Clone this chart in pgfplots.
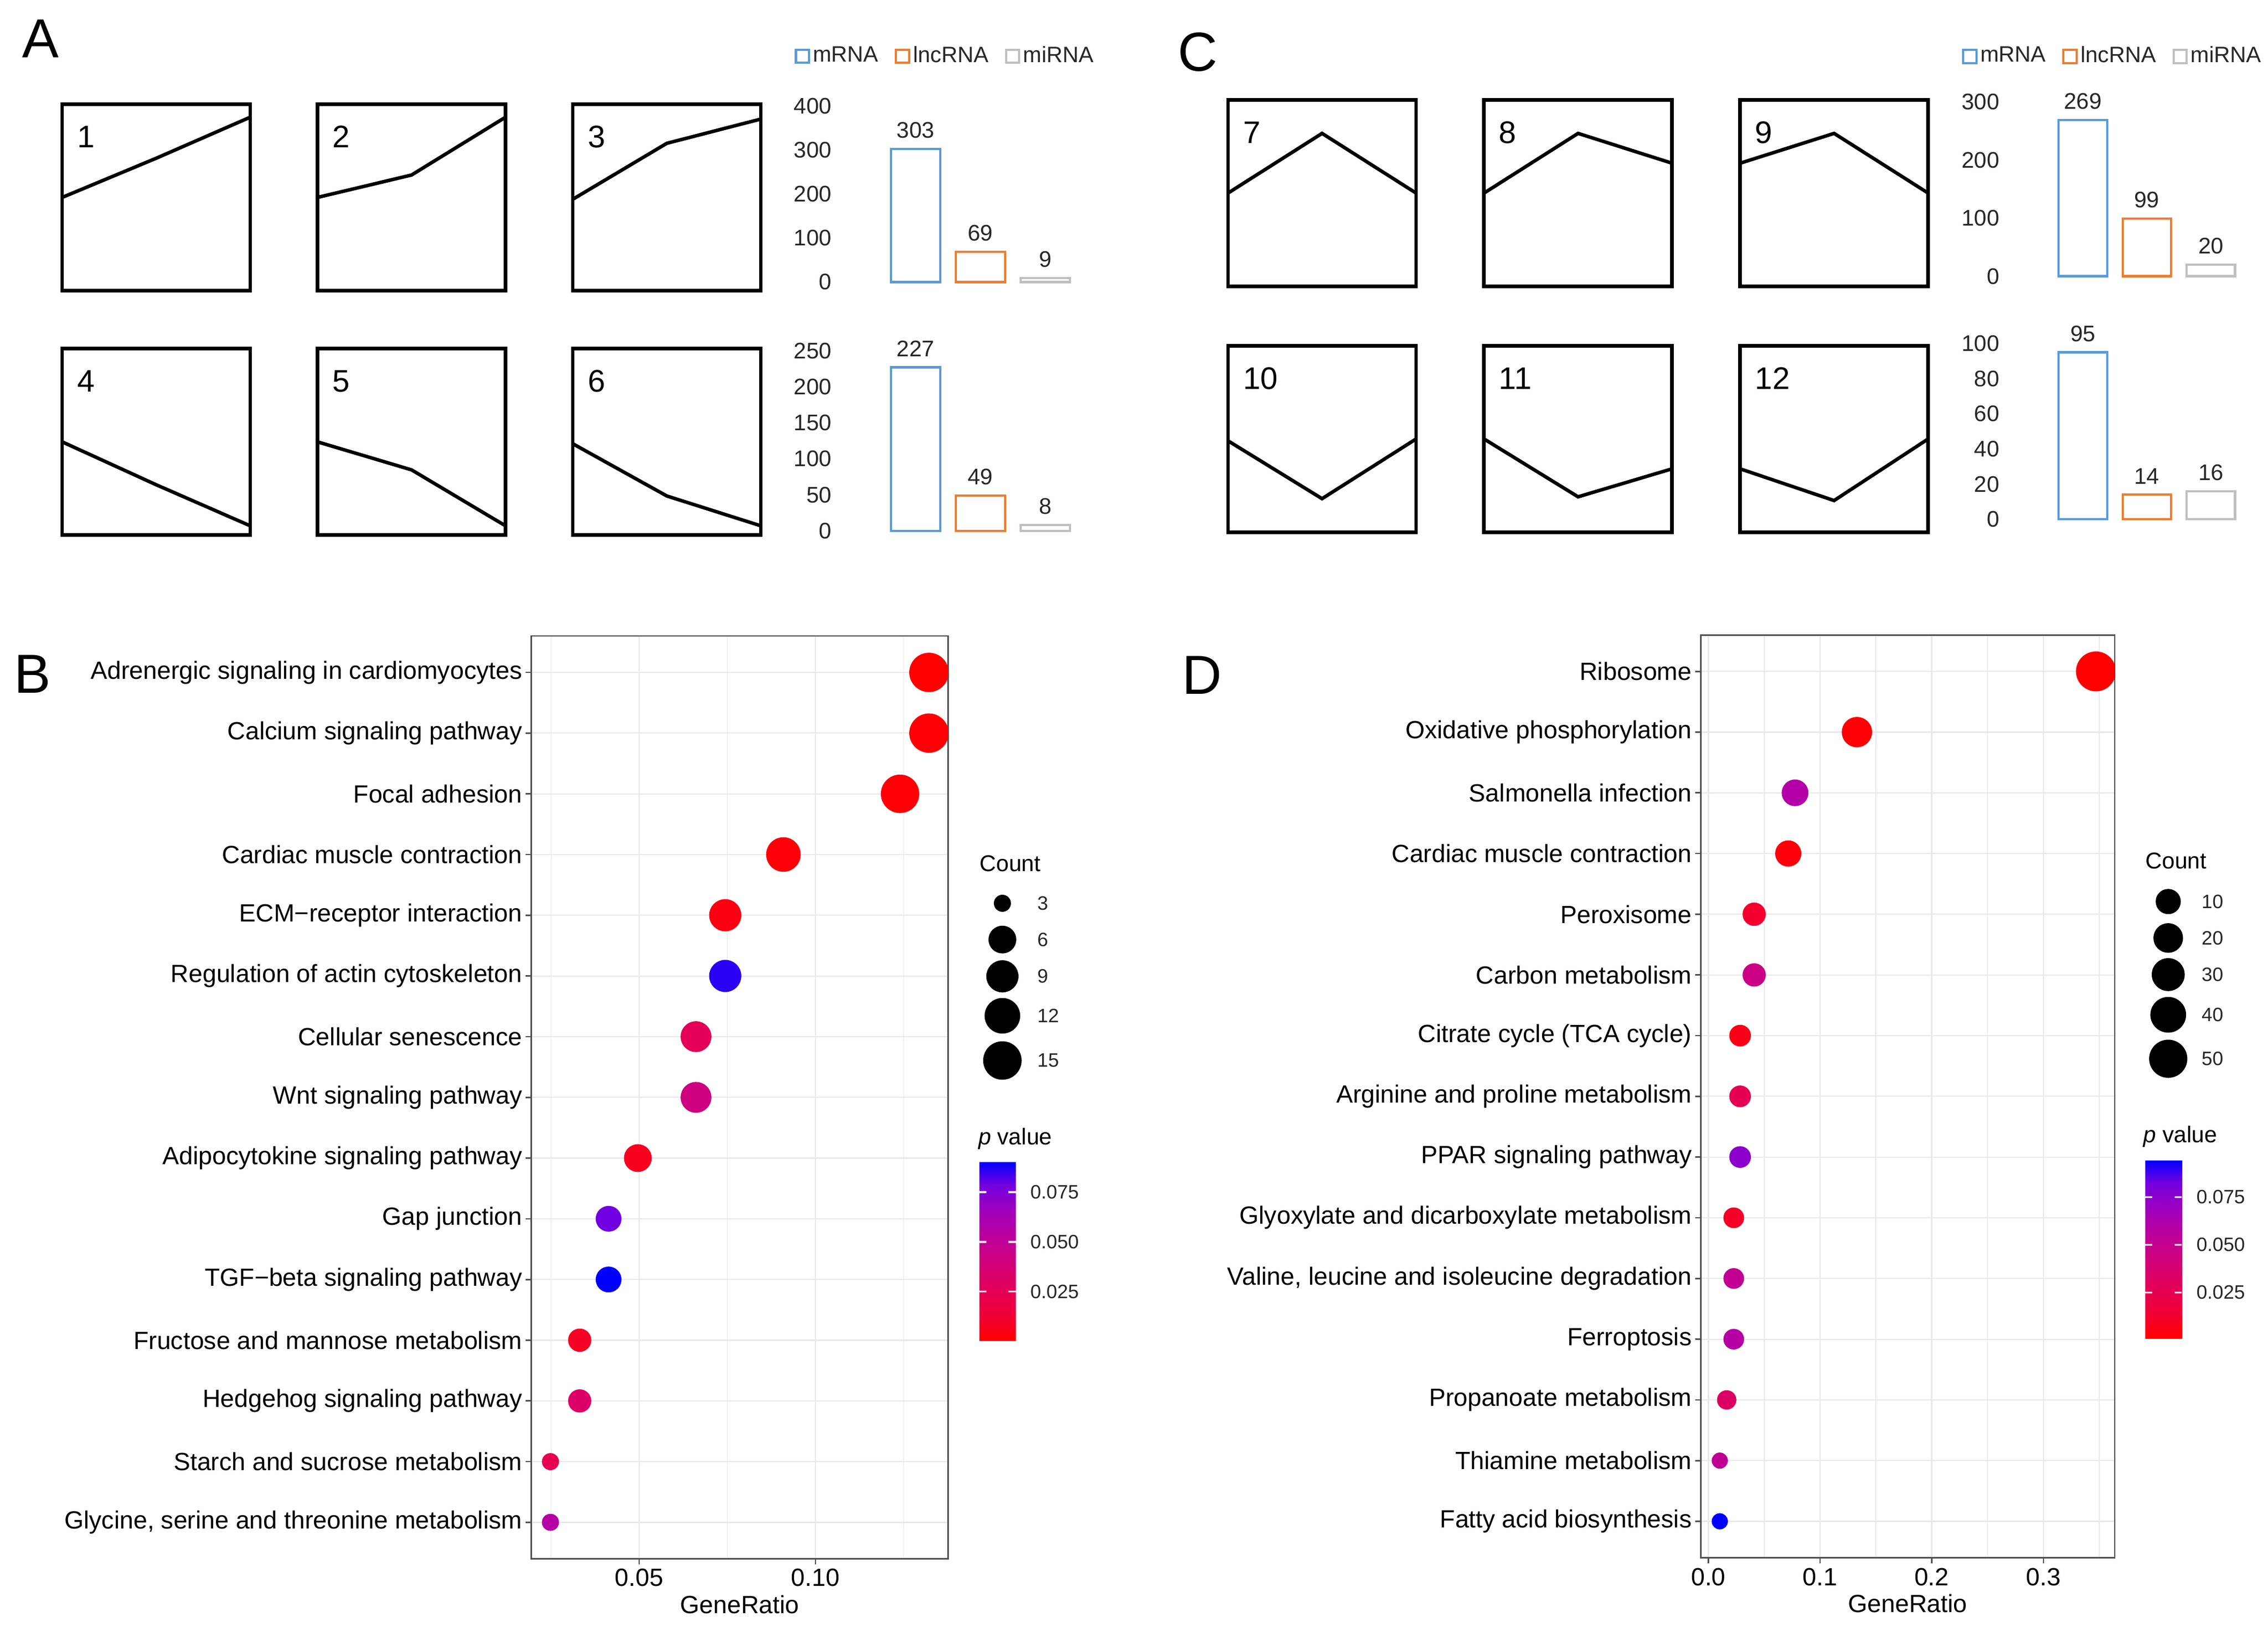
\documentclass[border=0pt]{standalone}
\usepackage{pgfplots}
\pgfplotsset{compat=1.18}
\usepackage{pgfplotstable}
\usepackage{fontspec}
\setmainfont{Liberation Sans}

\definecolor{mrna}{RGB}{91,155,213}
\definecolor{lnc}{RGB}{237,125,49}
\definecolor{mir}{RGB}{191,191,191}
\definecolor{frm}{RGB}{80,80,80}
\definecolor{grd}{RGB}{232,232,232}

\newcommand\fDot{\fontsize{8.6pt}{10pt}\selectfont}
\newcommand\fBar{\fontsize{7.8pt}{9pt}\selectfont}
\newcommand\fLeg{\fontsize{7.7pt}{9pt}\selectfont}
\newcommand\fTit{\fontsize{7.9pt}{9pt}\selectfont}
\newcommand\fSm{\fontsize{6.7pt}{8pt}\selectfont}
\newcommand\fNum{\fontsize{10.8pt}{12pt}\selectfont}
\newcommand\fPan{\fontsize{19pt}{22pt}\selectfont}

% KEGG enrichment, panel B (rows top to bottom)
\pgfplotstableread{
y ratio count p
1  0.1322 16 0.0003
2  0.1322 16 0.0010
3  0.1240 15 0.0015
4  0.0909 11 0.0020
5  0.0744 9  0.0040
6  0.0744 9  0.0860
7  0.0661 8  0.0255
8  0.0661 8  0.0420
9  0.0496 6  0.0075
10 0.0413 5  0.0790
11 0.0413 5  0.0902
12 0.0331 4  0.0090
13 0.0331 4  0.0320
14 0.0248 3  0.0230
15 0.0248 3  0.0560
}\keggB

% KEGG enrichment, panel D
\pgfplotstableread{
y ratio count p
1  0.3470 58 0.0007
2  0.1330 22 0.0020
3  0.0776 13 0.0600
4  0.0715 12 0.0030
5  0.0410 7  0.0120
6  0.0410 7  0.0460
7  0.0284 5  0.0060
8  0.0284 5  0.0260
9  0.0284 5  0.0750
10 0.0227 4  0.0100
11 0.0227 4  0.0520
12 0.0227 4  0.0590
13 0.0164 3  0.0330
14 0.0102 2  0.0530
15 0.0102 2  0.0945
}\keggD

% size-legend keys (canvas positions in px, count)
\pgfplotstableread{
x y c
693 624.5 3
693 649.6 6
693 675.0 9
693 702.3 12
693 733.2 15
}\keyB
\pgfplotstableread{
x y c
1499 623.3 10
1499 648.5 20
1499 673.8 30
1499 701.6 40
1499 732.0 50
}\keyD

\pgfplotsset{
  /pgf/number format/assume math mode=true,
  colormap={pv}{rgb255=(255,0,0) rgb255=(243,0,49) rgb255=(231,0,79)
    rgb255=(217,0,108) rgb255=(200,0,136) rgb255=(180,0,165)
    rgb255=(153,0,194) rgb255=(113,0,224) rgb255=(0,0,255)},
  prof/.style={scale only axis, anchor=north west, width=65pt, height=64.5pt,
    xmin=0, xmax=1, ymin=0, ymax=1, xtick=\empty, ytick=\empty,
    axis line style={line width=1.25pt}, clip=false},
  bars/.style={scale only axis, anchor=north west,
    ybar, bar shift=0pt, ymin=0,
    axis line style={draw=none}, major tick style={draw=none}, xtick=\empty,
    clip=false,
    yticklabel style={font=\fBar, text=black!85},
    nodes near coords, nodes near coords style={font=\fBar, text=black!85},
    legend columns=3,
    legend style={draw=none, fill=none, inner sep=0pt, outer sep=0pt,
      anchor=west, font=\fLeg, text=black!85, nodes={inner sep=1pt},
      /tikz/every even column/.append style={column sep=4.7pt}}},
  rb/.style={draw=#1, fill=white, line width=0.8pt,
    legend image code/.code={\draw[draw=#1, line width=0.75pt, fill=white]
      (0pt,-2.25pt) rectangle (4.5pt,2.25pt);}},
  dots/.style={scale only axis, anchor=north west, height=319pt,
    y dir=reverse, ymin=0.4, ymax=15.6, ytick={1,...,15},
    tick align=outside, tick pos=left, major tick length=2pt, minor tick length=0pt,
    major tick style={frm, line width=0.5pt},
    axis line style={frm, line width=0.5pt},
    grid=both, major grid style={grd, line width=0.4pt},
    minor grid style={grd, line width=0.3pt},
    ticklabel style={font=\fDot, text=black},
    yticklabel style={inner sep=1pt},
    xticklabel style={yshift=2pt},
    xlabel={GeneRatio}, xlabel style={font=\fDot, yshift=3.8pt},
    clip marker paths=true,
    colormap name=pv, colorbar,
    colorbar style={at={(parent axis.north east)}, anchor=north west,
      scale only axis, scaled y ticks=false,
      ytick={0.025,0.05,0.075}, yticklabels={0.025,0.050,0.075},
      yticklabel style={font=\fSm, text=black!85, xshift=1.5pt},
      major tick length=2.5pt, tick align=inside,
      ytick pos=both, yticklabel pos=right,
      major tick style={white, line width=0.6pt},
      axis line style={draw=none}}},
  key/.style={scatter, only marks, mark=*, point meta=\thisrow{c},
    scatter/use mapped color={draw=black, fill=black, mark size=\msz}},
  keylab/.style={only marks, mark=none, point meta=\thisrow{c},
    nodes near coords, nodes near coords style={font=\fSm, text=black!85,
      anchor=west, inner sep=0pt, xshift=#1}},
}

% #1,#2: top-left corner in pt (y negative downwards)
\newcommand\prof[6]{%
\begin{axis}[prof, at={(#1,#2)}]
\addplot[black, line width=1.2pt] coordinates {(0,#4) (0.5,#5) (1,#6)};
\node[anchor=base west, font=\fNum, inner sep=0pt] at (axis description cs:0.077,0.767) {#3};
\end{axis}}

\begin{document}
\begin{tikzpicture}[x=0.5pt, y=-0.5pt]
\path[use as bounding box] (0,0) rectangle (1568,1129);

% panel letters
\node[anchor=base west, font=\fPan, inner sep=0pt] at (15,40) {A};
\node[anchor=base west, font=\fPan, inner sep=0pt] at (9.4,479) {B};
\node[anchor=base west, font=\fPan, inner sep=0pt] at (814,49) {C};
\node[anchor=base west, font=\fPan, inner sep=0pt] at (817,480) {D};

% expression profiles, panel A
\prof{21.5pt}{-36pt}{1}{0.50}{0.71}{0.93}
\prof{109.75pt}{-36pt}{2}{0.50}{0.62}{0.93}
\prof{198pt}{-36pt}{3}{0.49}{0.79}{0.92}
\prof{21.5pt}{-120.5pt}{4}{0.50}{0.27}{0.05}
\prof{109.75pt}{-120.5pt}{5}{0.50}{0.35}{0.05}
\prof{198pt}{-120.5pt}{6}{0.49}{0.21}{0.05}
% expression profiles, panel C
\prof{424.5pt}{-34.5pt}{7}{0.50}{0.82}{0.50}
\prof{513pt}{-34.5pt}{8}{0.50}{0.82}{0.66}
\prof{601.5pt}{-34.5pt}{9}{0.66}{0.82}{0.50}
\prof{424.5pt}{-119.5pt}{10}{0.49}{0.18}{0.50}
\prof{513pt}{-119.5pt}{11}{0.50}{0.19}{0.34}
\prof{601.5pt}{-119.5pt}{12}{0.34}{0.17}{0.50}

% cluster sizes, panel A
\begin{axis}[bars, at={(291pt,-36.75pt)}, width=81.5pt, height=60.75pt, bar width=17pt,
  xmin=-1.14, xmax=2.50, ymax=400, ytick={0,100,...,400},
  legend style={at={(-0.1994,1.284)}}]
\addplot[rb=mrna] coordinates {(0,303)};
\addplot[rb=lnc] coordinates {(1,69)};
\addplot[rb=mir] coordinates {(2,9)};
\legend{mRNA,lncRNA,miRNA}
\end{axis}
\begin{axis}[bars, at={(291pt,-121.25pt)}, width=81.5pt, height=62.25pt, bar width=17pt,
  xmin=-1.14, xmax=2.50, ymax=250, ytick={0,50,...,250}]
\addplot[rb=mrna] coordinates {(0,227)};
\addplot[rb=lnc] coordinates {(1,49)};
\addplot[rb=mir] coordinates {(2,8)};
\end{axis}

% cluster sizes, panel C
\begin{axis}[bars, at={(694.7pt,-35.25pt)}, width=81.3pt, height=60.25pt, bar width=16.75pt,
  xmin=-1.1435, xmax=2.531, ymax=300, ytick={0,100,...,300},
  legend style={at={(-0.2017,1.261)}}]
\addplot[rb=mrna] coordinates {(0,269)};
\addplot[rb=lnc] coordinates {(1,99)};
\addplot[rb=mir] coordinates {(2,20)};
\legend{mRNA,lncRNA,miRNA}
\end{axis}
\begin{axis}[bars, at={(694.7pt,-118.75pt)}, width=81.3pt, height=60.75pt, bar width=16.75pt,
  xmin=-1.1435, xmax=2.531, ymax=100, ytick={0,20,...,100}]
\addplot[rb=mrna] coordinates {(0,95)};
\addplot[rb=lnc] coordinates {(1,14)};
\addplot[rb=mir] coordinates {(2,16)};
\end{axis}

% panel B
\begin{axis}[dots, at={(183.7pt,-219.85pt)}, width=144pt,
  xmin=0.0194, xmax=0.1376, xtick={0.05,0.10}, xticklabels={0.05,0.10},
  minor xtick={0.025,0.075,0.125},
  yticklabels={Adrenergic signaling in cardiomyocytes, Calcium signaling pathway,
    Focal adhesion, Cardiac muscle contraction, ECM−receptor interaction,
    Regulation of actin cytoskeleton, Cellular senescence, Wnt signaling pathway,
    Adipocytokine signaling pathway, Gap junction, TGF−beta signaling pathway,
    Fructose and mannose metabolism, Hedgehog signaling pathway,
    Starch and sucrose metabolism, {Glycine, serine and threonine metabolism}},
  point meta min=0.0003, point meta max=0.0902,
  colorbar style={xshift=2.3pt, yshift=-181.8pt, width=12.6pt, height=61.85pt}]
\addplot[scatter, only marks, mark=*, point meta=\thisrow{p},
  visualization depends on={0.5*(5.5+7.7*sqrt((\thisrow{count}-3)/13)) \as \msz},
  scatter/use mapped color={draw=mapped color, fill=mapped color, mark size=\msz}]
  table[x=ratio, y=y] \keggB;
\end{axis}

% panel D
\begin{axis}[dots, at={(588pt,-219.5pt)}, width=143pt,
  xmin=-0.0066, xmax=0.3638, xtick={0,0.1,0.2,0.3}, xticklabels={0.0,0.1,0.2,0.3},
  minor xtick={0.05,0.15,0.25,0.35},
  yticklabels={Ribosome, Oxidative phosphorylation, Salmonella infection,
    Cardiac muscle contraction, Peroxisome, Carbon metabolism,
    Citrate cycle (TCA cycle), Arginine and proline metabolism,
    PPAR signaling pathway, Glyoxylate and dicarboxylate metabolism,
    {Valine, leucine and isoleucine degradation}, Ferroptosis,
    Propanoate metabolism, Thiamine metabolism, Fatty acid biosynthesis},
  point meta min=0.0007, point meta max=0.0945,
  colorbar style={xshift=2pt, yshift=-181.5pt, width=12.7pt, height=61.75pt}]
\addplot[scatter, only marks, mark=*, point meta=\thisrow{p},
  visualization depends on={0.5*(5.2+8.2*sqrt((\thisrow{count}-2)/56)) \as \msz},
  scatter/use mapped color={draw=mapped color, fill=mapped color, mark size=\msz}]
  table[x=ratio, y=y] \keggD;
\end{axis}

% size legends (canvas-sized overlay axis, data in px)
\begin{axis}[at={(0pt,0pt)}, anchor=north west, scale only axis, width=784pt, height=564.5pt,
  xmin=0, xmax=1568, ymin=0, ymax=1129, y dir=reverse, hide axis, clip=false]
\addplot[key, visualization depends on={0.5*(5.5+7.7*sqrt((\thisrow{c}-3)/13)) \as \msz}]
  table[x=x, y=y] \keyB;
\addplot[keylab=11.9pt] table[x=x, y=y] \keyB;
\addplot[key, visualization depends on={0.5*(5.2+8.2*sqrt((\thisrow{c}-2)/56)) \as \msz}]
  table[x=x, y=y] \keyD;
\addplot[keylab=11.35pt] table[x=x, y=y] \keyD;
\end{axis}

% legend titles
\node[anchor=base west, font=\fTit, inner sep=0pt] at (677,602.6) {Count};
\node[anchor=base west, font=\fTit, inner sep=0pt] at (676,791.4) {{\itshape p} value};
\node[anchor=base west, font=\fTit, inner sep=0pt] at (1483,600.7) {Count};
\node[anchor=base west, font=\fTit, inner sep=0pt] at (1481.6,790) {{\itshape p} value};
\end{tikzpicture}
\end{document}
